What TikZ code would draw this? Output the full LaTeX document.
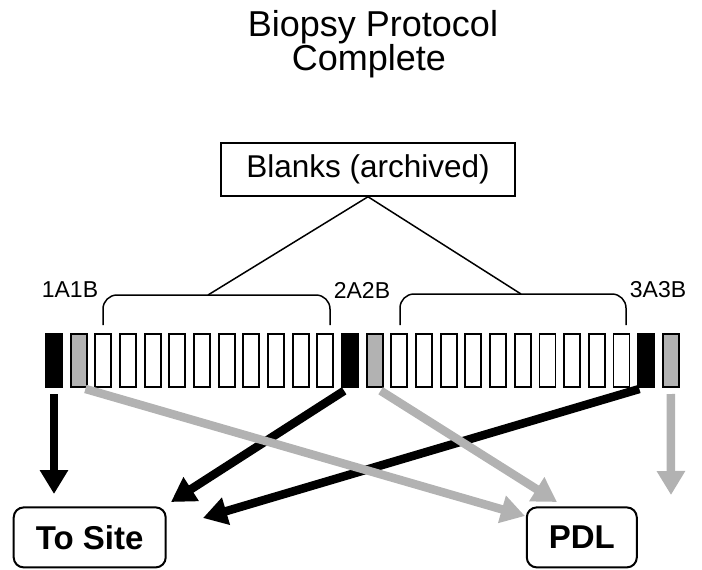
\documentclass[tikz,border=0pt]{standalone}
\usepackage{fontspec}
\setmainfont{Liberation Sans}
\usetikzlibrary{arrows.meta}
\definecolor{slidegray}{RGB}{178,178,178}
\tikzset{
	slide/.style={draw=black, line width=1.8pt, minimum width=16pt, minimum height=53pt, inner sep=0pt, outer sep=0pt},
	brace/.style={black, line width=1.5pt, rounded corners=14pt},
	lbl/.style={font=\fontsize{23}{23}\selectfont, inner sep=0pt},
	bigarrow/.style={line width=8.5pt, -{Triangle[length=24pt,width=27pt]}, shorten <=7pt},
	destbox/.style={draw, line width=2pt, rounded corners=10pt, minimum height=60pt, font=\fontsize{33}{36}\selectfont\bfseries}
}
\begin{document}
\begin{tikzpicture}[x=1pt, y=-1pt]
\useasboundingbox (0,0) rectangle (702,570);
\node[font=\fontsize{36}{36}\selectfont, anchor=base] (title) at (373,36.7) {Biopsy Protocol};
\node[font=\fontsize{36}{36}\selectfont, anchor=base] (titleb) at (369,70) {Complete};
\node[draw, line width=1.5pt, minimum width=294pt, minimum height=53pt, font=\fontsize{31.5}{31.5}\selectfont] (blanks) at (368,169.5) {Blanks (archived)};
\foreach \i in {0,...,25}{
	\pgfmathtruncatemacro\k{mod(\i,12)}
	\ifnum\k=0 \def\fc{black}\else\ifnum\k=1 \def\fc{slidegray}\else\def\fc{white}\fi\fi
	\node[slide, fill=\fc] (s\i) at ({54+24.67*\i},360.5) {};
}
\node[lbl] (l1) at (70,290) {1A1B};
\node[lbl] (l2) at (362,290) {2A2B};
\node[lbl] (l3) at (658,290) {3A3B};
\coordinate (b1) at (208,295);
\coordinate (b2) at (521,294);
\draw[brace] (103,325) |- (b1) -| (330,325);
\draw[brace] (400,325) |- (b2) -| (626,325);
\draw[line width=1.5pt] (b1) -- (blanks.south) -- (b2);
\node[destbox, minimum width=152pt] (site) at (89.7,537.4) {To Site};
\node[destbox, minimum width=110pt] (pdl) at (581.8,537.4) {PDL};
\coordinate (t1) at (54,494);
\coordinate (t2) at (171,502);
\coordinate (t3) at (203,518);
\coordinate (p1) at (525,516);
\coordinate (p2) at (557,502);
\coordinate (p3) at (671,495);
\draw[bigarrow, black] (s0.south) -- (t1);
\draw[bigarrow, black] (s12.south) -- (t2);
\draw[bigarrow, black] (s24.south) -- (t3);
\draw[bigarrow, slidegray] (s1.south) -- (p1);
\draw[bigarrow, slidegray] (s13.south) -- (p2);
\draw[bigarrow, slidegray] (s25.south) -- (p3);
\end{tikzpicture}
\end{document}
